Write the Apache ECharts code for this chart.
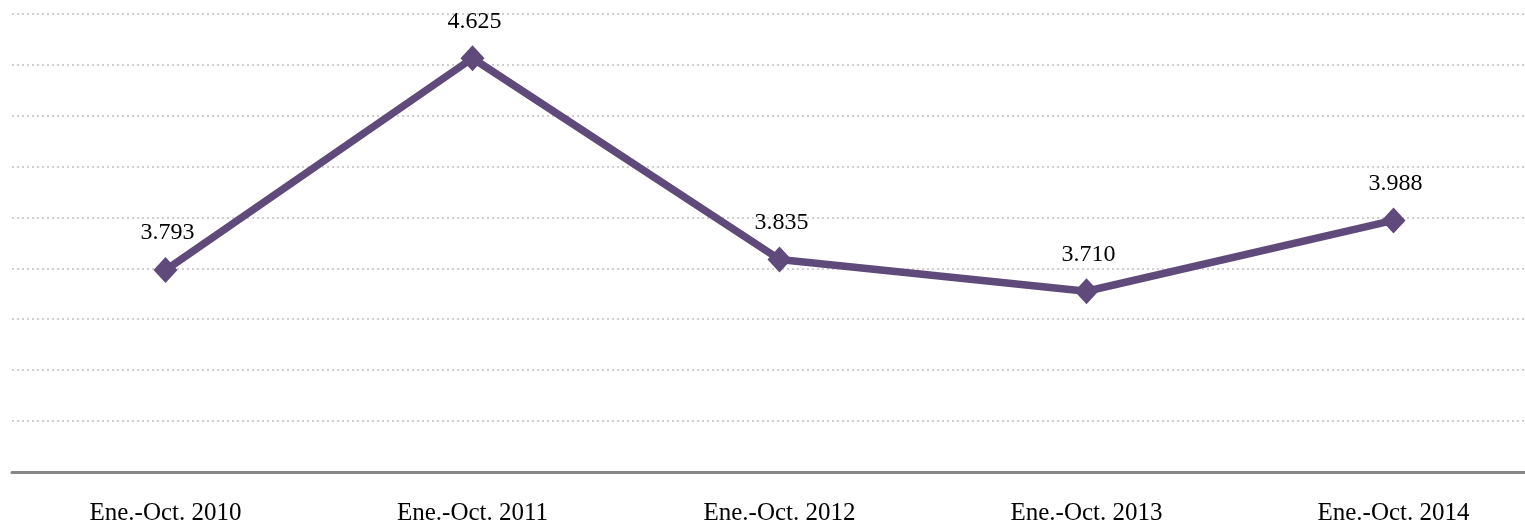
<!DOCTYPE html>
<html>
<head>
<meta charset="utf-8">
<script src="https://cdn.jsdelivr.net/npm/echarts@6/dist/echarts.min.js"></script>
<style>
html,body{margin:0;padding:0;background:#fff;overflow:hidden;width:1525px;height:526px;}
#chart{width:1560px;height:526px;}
</style>
</head>
<body>
<div id="chart"></div>
<script>
const categories = ['Ene.-Oct. 2010', 'Ene.-Oct. 2011', 'Ene.-Oct. 2012', 'Ene.-Oct. 2013', 'Ene.-Oct. 2014'];
const values = [3.793, 4.625, 3.835, 3.710, 3.988];

const chart = echarts.init(document.getElementById('chart'), null, {renderer: 'canvas'});
const serif = "'Liberation Serif', 'Times New Roman', serif";
chart.setOption({
  animation: false,
  grid: {left: 12, top: 13.7, width: 1535, height: 460.8, containLabel: false},
  xAxis: {
    type: 'category',
    data: categories,
    boundaryGap: true,
    axisLine: {show: true, lineStyle: {color: '#878787', width: 3}},
    axisTick: {show: false},
    axisLabel: {margin: 29, color: '#000', fontSize: 25, fontFamily: serif, interval: 0},
    splitLine: {show: false}
  },
  yAxis: {
    type: 'value',
    min: 3,
    max: 4.8,
    interval: 0.2,
    axisLine: {show: false},
    axisTick: {show: false},
    axisLabel: {show: false},
    splitLine: {show: true, lineStyle: {color: '#cfcfcf', width: 2, type: [2, 3]}}
  },
  series: [{
    type: 'line',
    data: values,
    symbol: 'diamond',
    symbolSize: [24, 26],
    lineStyle: {color: '#604A7B', width: 7.5},
    itemStyle: {color: '#604A7B'},
    label: {
      show: true,
      position: 'top',
      distance: 12,
      offset: [2, 0],
      color: '#000',
      fontSize: 24,
      fontFamily: serif,
      formatter: p => p.value.toFixed(3)
    }
  }]
});
</script>
</body>
</html>
